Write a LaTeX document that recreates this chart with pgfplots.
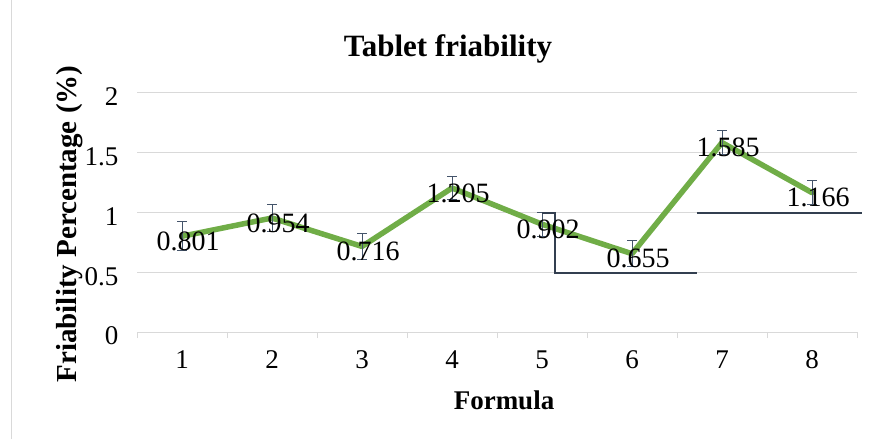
\documentclass[border=0pt]{standalone}
\usepackage{pgfplots}
\pgfplotsset{compat=1.18}
\usepackage{pgfplotstable}
\usepackage{fontspec}
\setmainfont{Liberation Serif}
\definecolor{lgreen}{HTML}{70AD47}
\definecolor{errc}{HTML}{44546A}
\definecolor{artc}{HTML}{333F50}
\definecolor{gridc}{HTML}{D9D9D9}
\pgfplotstableread{
x y e lab
1 0.801 0.12 0.801
2 0.954 0.11 0.954
3 0.716 0.11 0.716
4 1.205 0.10 1.205
5 0.902 0.10 0.902
6 0.655 0.11 0.655
7 1.585 0.10 1.585
8 1.166 0.10 1.166
}\data
\begin{document}
\begin{tikzpicture}[x=1pt,y=1pt]
\path[use as bounding box] (0,0) rectangle (874,439);
\draw[gridc, line width=1pt] (11,0) -- (11,439);
\begin{axis}[at={(137pt,107pt)}, anchor=south west, scale only axis,
  width=720pt, height=239pt,
  xmin=0.5, xmax=8.5, ymin=0, ymax=2,
  xtick={1,...,8}, ytick={0,0.5,1,1.5,2},
  minor xtick={0.5,1.5,...,8.5},
  axis x line*=bottom, axis y line*=left,
  y axis line style={draw=none},
  x axis line style={gridc, line width=1pt},
  ymajorgrids, grid style={gridc, line width=1pt},
  major tick length=0pt, minor tick length=6pt,
  tick align=outside,
  minor tick style={gridc, line width=1pt},
  /pgf/number format/assume math mode=true,
  ticklabel style={font=\fontsize{27}{30}\selectfont},
  yticklabel style={xshift=-15pt, yshift=-4pt},
  xticklabel style={yshift=-15pt},
  clip=false]
\addplot[lgreen, line width=5.5pt, line join=round, line cap=round] table[x=x,y=y]{\data};
\addplot[draw=none, mark=none, forget plot,
  error bars/.cd, y dir=both, y explicit,
  error bar style={errc, line width=1pt},
  error mark options={rotate=90, mark size=5pt, errc, line width=1pt}]
  table[x=x,y=y,y error=e]{\data};
\addplot[draw=none, mark=none, nodes near coords, point meta=explicit symbolic,
  nodes near coords style={font=\fontsize{28}{30}\selectfont, text=black, anchor=center, xshift=6pt, yshift=-5pt}]
  table[x=x,y=y,meta=lab]{\data};
\draw[artc, line width=1.5pt] (axis cs:5.0,0.996) -- (axis cs:5.144,0.996) -- (axis cs:5.144,0.494) -- (axis cs:6.722,0.494);
\draw[artc, line width=1.5pt] (axis cs:6.722,0.996) -- (axis cs:8.55,0.996);
\end{axis}
\node[anchor=base, font=\fontsize{31}{34}\selectfont\bfseries] at (448,382) {Tablet friability};
\node[anchor=base, font=\fontsize{27}{30}\selectfont\bfseries] at (504,30) {Formula};
\node[anchor=base, rotate=90, font=\fontsize{29}{32}\selectfont\bfseries] at (76,215) {Friability Percentage (\%)};
\end{tikzpicture}
\end{document}
